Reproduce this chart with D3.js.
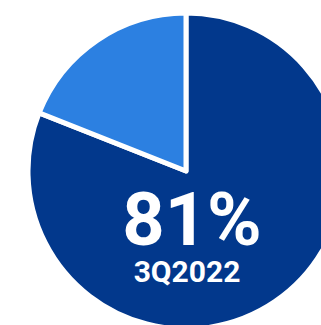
<!DOCTYPE html>
<html><head><meta charset="utf-8">
<script src="https://cdn.jsdelivr.net/npm/d3@7/dist/d3.min.js"></script>
<style>html,body{margin:0;padding:0;background:#fff;overflow:hidden}</style>
</head><body>
<svg id="c" width="321" height="325"></svg>
<script>
const categories = ["Share", "Rest"];
const values = [81, 19];
const colors = ["#02388C", "#2C80E1"];
const mainLabel = "81%";
const subLabel = "3Q2022";

const svg = d3.select("#c");
const cx = 186, cy = 171, r = 158;
const g = svg.append("g").attr("transform", `translate(${cx},${cy})`);
const pie = d3.pie().sort(null).value(d => d.v);
const arc = d3.arc().innerRadius(0).outerRadius(r);
const data = categories.map((c, i) => ({c, v: values[i], col: colors[i]}));
g.selectAll("path").data(pie(data)).join("path")
  .attr("d", arc)
  .attr("fill", d => d.data.col)
  .attr("stroke", "#fff")
  .attr("stroke-width", 5)
  .attr("stroke-linejoin", "round");

g.append("text").attr("x", 6).attr("y", 74)
  .attr("text-anchor", "middle")
  .attr("font-family", "Roboto, sans-serif").attr("font-weight", 700)
  .attr("font-size", 74).attr("fill", "#fff").text(mainLabel);
g.append("text").attr("x", 1).attr("y", 111)
  .attr("text-anchor", "middle")
  .attr("font-family", "Roboto, sans-serif").attr("font-weight", 700)
  .attr("font-size", 30).attr("fill", "#fff").text(subLabel);
</script>
</body></html>
